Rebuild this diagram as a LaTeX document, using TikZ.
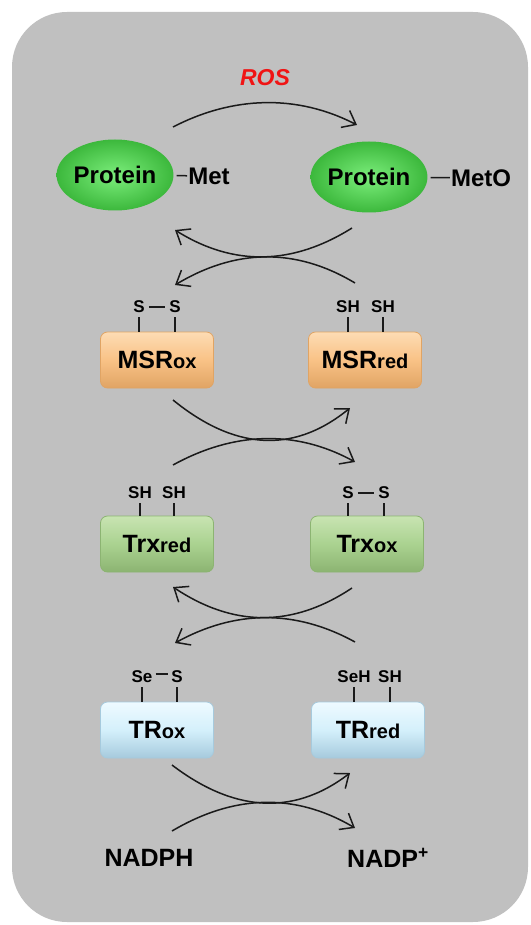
\documentclass[tikz,border=0pt]{standalone}
\usepackage{fontspec}
\setmainfont{Liberation Sans}
\usepackage{tikz}
\usetikzlibrary{arrows.meta, positioning, shapes.geometric, calc}

\definecolor{bggray}{HTML}{C0C0C0}
\definecolor{rosred}{HTML}{F01414}
\definecolor{inkline}{HTML}{1A1A1A}
\definecolor{protin}{HTML}{7CEE7C}
\definecolor{protout}{HTML}{3CB83C}
\definecolor{msrtop}{HTML}{FDDCB4}
\definecolor{msrbody}{HTML}{F9C286}
\definecolor{msrbot}{HTML}{E0A464}
\definecolor{trxtop}{HTML}{C8E4B2}
\definecolor{trxbody}{HTML}{AAD290}
\definecolor{trxbot}{HTML}{8CB472}
\definecolor{trtop}{HTML}{EEFAFF}
\definecolor{trbody}{HTML}{D4F0FB}
\definecolor{trbot}{HTML}{A6CADD}

\newcommand{\enzname}[2]{{\fontsize{25}{25}\selectfont\bfseries #1}{\fontsize{20}{20}\selectfont\bfseries #2}}

\begin{document}
\begin{tikzpicture}[x=1pt, y=-1pt,
  prot/.style={ellipse, inner sep=0pt, minimum width=114pt, minimum height=71pt,
    inner color=protin, outer color=protout, font=\fontsize{24}{24}\selectfont\bfseries},
  enzbox/.style={rectangle, rounded corners=7pt, inner sep=0pt,
    minimum width=113pt, minimum height=56pt, line width=0.8pt},
  msrbox/.style={enzbox, top color=msrtop, bottom color=msrbot, middle color=msrbody, draw=msrbot},
  trxbox/.style={enzbox, top color=trxtop, bottom color=trxbot, middle color=trxbody, draw=trxbot},
  trbox/.style={enzbox, top color=trtop, bottom color=trbot, middle color=trbody, draw=trbot},
  thiol/.style={inner sep=1pt, font=\fontsize{17}{17}\selectfont\bfseries},
  bond/.style={inkline, line width=1.5pt, shorten <=3pt, shorten >=3pt},
  tick/.style={inkline, line width=1.5pt, shorten <=3pt},
  arr/.style={inkline, line width=1.5pt, -{Straight Barb[length=12pt, width=19pt]}},
  lbl/.style={font=\fontsize{24}{24}\selectfont\bfseries}]
\useasboundingbox (0,0) rectangle (530,925);
% Background panel
\fill[bggray, rounded corners=55pt] (12,12) rectangle (528,922);

% Oxidation of methionine
\node[font=\fontsize{23}{23}\selectfont\bfseries\itshape, text=rosred] (ros) at (265,78) {ROS};
\node[prot] (protMet) at (115,175) {Protein};
\node[prot] (protMetO) at (369,177) {Protein};
\node[lbl, inner sep=1pt] (met) at (209,176) {Met};
\node[lbl, inner sep=1pt] (metO) at (481,178) {MetO};
\draw[bond, shorten <=3pt, shorten >=0pt] (protMet) -- (met);
\draw[bond, shorten <=3pt, shorten >=0pt] (protMetO) -- (metO);

% Enzymes
\node[msrbox] (msrOx) at (157,360) {\enzname{MSR}{ox}};
\node[msrbox] (msrRed) at (365,360) {\enzname{MSR}{red}};
\node[trxbox] (trxRed) at (157,544) {\enzname{Trx}{red}};
\node[trxbox] (trxOx) at (367,544) {\enzname{Trx}{ox}};
\node[trbox] (trOx) at (157,730) {\enzname{TR}{ox}};
\node[trbox] (trRed) at (368,730) {\enzname{TR}{red}};

% Thiol / selenol groups
\node[thiol] (msrOxA) at (139,307) {S};
\node[thiol] (msrOxB) at (175,307) {S};
\node[thiol] (msrRedA) at (348,307) {SH};
\node[thiol] (msrRedB) at (383,307) {SH};
\node[thiol] (trxRedA) at (140,493) {SH};
\node[thiol] (trxRedB) at (174,493) {SH};
\node[thiol] (trxOxA) at (348,493) {S};
\node[thiol] (trxOxB) at (384,493) {S};
\node[thiol] (trOxA) at (142,677) {Se};
\node[thiol] (trOxB) at (177,677) {S};
\node[thiol] (trRedA) at (354,677) {SeH};
\node[thiol] (trRedB) at (390,677) {SH};
\draw[bond] (msrOxA) -- (msrOxB);
\draw[bond] (trxOxA) -- (trxOxB);
\draw[bond, shorten <=2pt, shorten >=2pt] ([yshift=3pt]trOxA.east) -- ([yshift=3pt]trOxB.west);
\foreach \grp/\enz in {msrOxA/msrOx, msrOxB/msrOx, msrRedA/msrRed, msrRedB/msrRed,
    trxRedA/trxRed, trxRedB/trxRed, trxOxA/trxOx, trxOxB/trxOx,
    trOxA/trOx, trOxB/trOx, trRedA/trRed, trRedB/trRed}
  \draw[tick] (\grp.south) -- (\grp.south |- \enz.north);

% Cofactor
\node[font=\fontsize{25}{25}\selectfont\bfseries] (nadph) at (149,858) {NADPH};
\node[font=\fontsize{25}{25}\selectfont\bfseries] (nadp) at (388,858) {NADP\textsuperscript{+}};

% Arrow ends
\foreach \n/\x/\y in {rosS/173/127, rosE/357/125,
    metRedS/352/228, metRedE/175/230, msrBackS/355/283, msrBackE/175/285,
    msrRegS/173/400, msrRegE/350/408, trxUseS/173/465, trxUseE/355/462,
    trxRegS/352/588, trxRegE/173/587, trBackS/355/642, trBackE/175/643,
    trRegS/172/765, trRegE/350/773, nadS/172/831, nadE/355/828}
  \coordinate (\n) at (\x,\y);

% Coupled reactions
\draw[arr] (rosS) .. controls +(60,-31) and +(-60,-31) .. (rosE);
\draw[arr] (metRedS) .. controls +(-59,37) and +(59,37) .. (metRedE);
\draw[arr] (msrBackS) .. controls +(-60,-36) and +(60,-36) .. (msrBackE);
\draw[arr] (msrRegS) .. controls +(59,48) and +(-59,48) .. (msrRegE);
\draw[arr] (trxUseS) .. controls +(60,-33) and +(-60,-33) .. (trxUseE);
\draw[arr] (trxRegS) .. controls +(-60,40) and +(60,40) .. (trxRegE);
\draw[arr] (trBackS) .. controls +(-60,-33) and +(60,-33) .. (trBackE);
\draw[arr] (trRegS) .. controls +(59,45) and +(-59,45) .. (trRegE);
\draw[arr] (nadS) .. controls +(61,-36) and +(-61,-36) .. (nadE);
\end{tikzpicture}
\end{document}
